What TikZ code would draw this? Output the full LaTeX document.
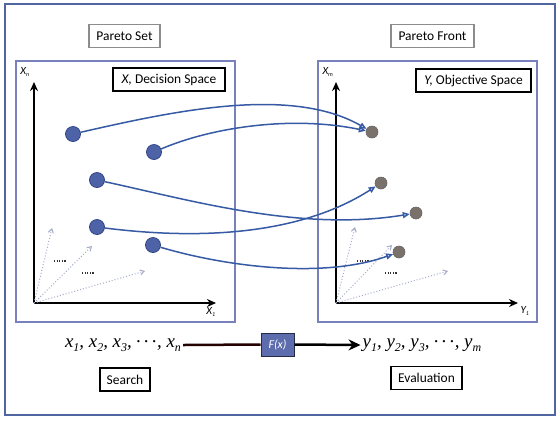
\documentclass[tikz,border=0pt]{standalone}
\usepackage{fontspec}
\setmainfont{Carlito}
\newfontfamily\serifit{Liberation Serif}
\usetikzlibrary{arrows.meta}
\definecolor{framec}{RGB}{80,102,160}
\definecolor{panelc}{RGB}{120,128,190}
\definecolor{dotb}{RGB}{78,98,168}
\definecolor{dotbd}{RGB}{50,70,135}
\definecolor{curvec}{RGB}{55,90,165}
\definecolor{fboxc}{RGB}{92,108,172}
\definecolor{dotg}{RGB}{122,114,106}
\definecolor{dimc}{RGB}{165,172,200}
\newcommand{\lowsub}[1]{\raisebox{-0.45ex}{\fontsize{12}{12}\selectfont #1}}
\tikzset{
  graybox/.style={draw=black!45, line width=1.5bp, fill=white, inner sep=0pt, minimum height=23bp, font=\fontsize{13.5}{13.5}\selectfont},
  blackbox/.style={draw=black, line width=1.8bp, fill=white, inner sep=0pt, minimum height=23bp, font=\fontsize{13.5}{13.5}\selectfont},
  axisline/.style={line width=2bp, black, -{Stealth[length=9bp,width=8bp]}},
  axlabel/.style={font=\fontsize{11}{11}\selectfont\itshape, inner sep=0pt},
  bdot/.style={circle, fill=dotb, draw=dotbd, line width=0.8bp, minimum size=15bp, inner sep=0pt},
  gdot/.style={circle, fill=dotg, draw=black!60, line width=0.6bp, minimum size=12bp, inner sep=0pt},
  curve/.style={curvec, line width=1.5bp, -{Triangle[open, length=7bp, width=6bp]}},
  dimarrow/.style={dimc, dotted, line width=1bp, -{Straight Barb[length=4bp,width=5bp]}},
  ellip/.style={black!80, line width=1.3bp, dash pattern=on 1.2bp off 1.4bp},
  formula/.style={font=\serifit\itshape\fontsize{19}{19}\selectfont, inner sep=2bp},
  fbox/.style={draw=black!60!fboxc, fill=fboxc, line width=1bp, text=white, minimum width=33bp, minimum height=23bp, inner sep=0pt, font=\fontsize{12}{12}\selectfont\itshape}
}
\begin{document}
\begin{tikzpicture}[x=1bp,y=-1bp]
\useasboundingbox (0,0) rectangle (560,420);
\fill[white] (0,0) rectangle (560,420);
\draw[framec, line width=1.5bp] (5,4) rectangle (555,415);
\draw[panelc, line width=1.3bp] (16,61) rectangle (235,322);
\draw[panelc, line width=1.3bp] (318,61) rectangle (537,322);

% title labels
\node[graybox, minimum width=71bp] (ps) at (124.5,36) {Pareto Set};
\node[graybox, minimum width=83bp] (pf) at (432.5,36) {Pareto Front};
\node[blackbox, minimum width=112bp] (ds) at (169,79.5) {\textit{X,} Decision Space};
\node[blackbox, minimum width=115bp] (os) at (473.5,80.5) {\textit{Y,} Objective Space};

% left axes
\coordinate (o1) at (34,303);
\coordinate (t1) at (34,82);
\coordinate (e1) at (216,303);
\draw[axisline] (o1) -- (t1);
\draw[axisline] (o1) -- (e1);
\node[axlabel] (xn) at (25,72) {X\textsubscript{\fontsize{6}{6}\selectfont n}};
\node[axlabel] (x1) at (211,312) {X\textsubscript{\fontsize{6}{6}\selectfont 1}};
\coordinate (l1) at (52,228);
\coordinate (l2) at (92,246);
\coordinate (l3) at (145,271);
\draw[dimarrow] (o1) -- (l1);
\draw[dimarrow] (o1) -- (l2);
\draw[dimarrow] (o1) -- (l3);
\draw[ellip] (54,261) -- (67,261);
\draw[ellip] (82,273) -- (95,273);

% right axes
\coordinate (o2) at (336,303);
\coordinate (t2) at (336,82);
\coordinate (e2) at (518,303);
\draw[axisline] (o2) -- (t2);
\draw[axisline] (o2) -- (e2);
\node[axlabel] (xm) at (328,72) {X\textsubscript{\fontsize{6}{6}\selectfont m}};
\node[axlabel] (y1) at (525,311) {Y\textsubscript{\fontsize{6}{6}\selectfont 1}};
\coordinate (m1) at (355,227);
\coordinate (m2) at (392,245);
\coordinate (m3) at (448,271);
\draw[dimarrow] (o2) -- (m1);
\draw[dimarrow] (o2) -- (m2);
\draw[dimarrow] (o2) -- (m3);
\draw[ellip] (357,261) -- (370,261);
\draw[ellip] (385,273) -- (398,273);

% decision points
\node[bdot] (a1) at (73,134) {};
\node[bdot] (a2) at (154,152) {};
\node[bdot] (a3) at (97,180) {};
\node[bdot] (a4) at (97,227) {};
\node[bdot] (a5) at (153,245) {};

% objective points
\node[gdot] (b1) at (372,132) {};
\node[gdot] (b2) at (381,183) {};
\node[gdot] (b3) at (416,213) {};
\node[gdot] (b4) at (399,252) {};

% mappings
\draw[curve] (a1) .. controls (170,112) and (290,85) .. (b1);
\draw[curve] (a2) .. controls (210,128) and (290,115) .. (b1);
\draw[curve] (a3) .. controls (190,200) and (300,232) .. (b3);
\draw[curve] (a4) .. controls (200,240) and (300,235) .. (b2);
\draw[curve] (a5) .. controls (220,265) and (320,280) .. (b4);

% bottom
\node[formula] (xs) at (123,345) {x\lowsub{1}, x\lowsub{2}, x\lowsub{3}, \raisebox{0.5ex}{.\,.\,.}, x\lowsub{n}};
\node[fbox] (F) at (277.5,344.5) {F(x)};
\node[formula] (ys) at (422,345) {y\lowsub{1}, y\lowsub{2}, y\lowsub{3}, \raisebox{0.5ex}{.\,.\,.}, y\lowsub{m}};
\draw[line width=2.5bp, black!85!red] (xs.east) -- (F.west);
\draw[line width=2.5bp, black, -{Stealth[length=12bp,width=11bp]}] (F.east) -- (ys.west);

\node[blackbox, line width=1.4bp, minimum width=50bp] (se) at (125,379.5) {Search};
\node[blackbox, line width=1.4bp, minimum width=71bp] (ev) at (426.5,378) {Evaluation};
\end{tikzpicture}
\end{document}
